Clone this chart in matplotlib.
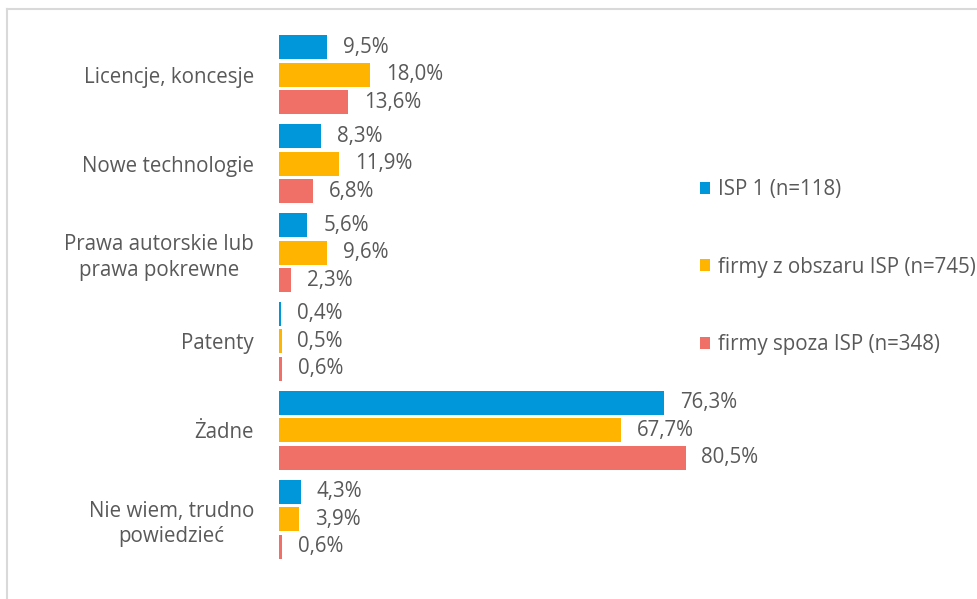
import numpy as np
import matplotlib.pyplot as plt
from matplotlib.lines import Line2D

plt.rcParams['font.family'] = ['Open Sans', 'DejaVu Sans']

categories = ["Licencje, koncesje", "Nowe technologie",
              "Prawa autorskie lub\nprawa pokrewne", "Patenty", "Żadne",
              "Nie wiem, trudno\npowiedzieć"]
series_names = ["ISP 1 (n=118)", "firmy z obszaru ISP (n=745)",
                "firmy spoza ISP (n=348)"]
isp1 = [9.5, 8.3, 5.6, 0.4, 76.3, 4.3]
isp_area = [18.0, 11.9, 9.6, 0.5, 67.7, 3.9]
outside_isp = [13.6, 6.8, 2.3, 0.6, 80.5, 0.6]
colors = ["#0096DA", "#FFB500", "#F07067"]

text_color = "#595959"
fs = 14.8

fig = plt.figure(figsize=(9.78, 5.99), dpi=100)
ax = fig.add_axes([279 / 978, 1 - 563.5 / 599, (90 * 5.05) / 978, (563.5 - 30.5) / 599])

y = np.arange(len(categories))
offsets = [-0.31, 0, 0.31]
bar_h = 0.27
for vals, off, col, name in zip([isp1, isp_area, outside_isp], offsets, colors, series_names):
    bars = ax.barh(y + off, vals, height=bar_h, color=col, label=name)
    for b, v in zip(bars, vals):
        ax.annotate(f"{v:.1f}%".replace(".", ","),
                    xy=(b.get_width(), b.get_y() + b.get_height() / 2),
                    xytext=(11.5, 0), textcoords="offset points",
                    ha="left", va="center", fontsize=fs, color=text_color)

ax.set_xlim(0, 90)
ax.set_ylim(len(categories) - 0.5, -0.5)
ax.set_yticks(y)
ax.set_yticklabels(categories, fontsize=fs, color=text_color,
                   multialignment="center", linespacing=1.3)
ax.tick_params(axis="y", length=0, pad=18)
ax.set_xticks([])
for s in ax.spines.values():
    s.set_visible(False)

fig.legend(loc="center left", bbox_to_anchor=(700 / 978, 1 - 267 / 599),
           frameon=False, fontsize=fs, labelcolor=text_color,
           handlelength=0.5, handleheight=0.5, handletextpad=0.4,
           labelspacing=2.75, borderpad=0, borderaxespad=0)

# chart border (top and left visible)
fig.add_artist(Line2D([7.5 / 978, 7.5 / 978], [0, 1 - 8.5 / 599], color="#d9d9d9", lw=1.5))
fig.add_artist(Line2D([7.5 / 978, 1], [1 - 8.5 / 599, 1 - 8.5 / 599], color="#d9d9d9", lw=1.5))

fig.savefig("out.png", dpi=100)
